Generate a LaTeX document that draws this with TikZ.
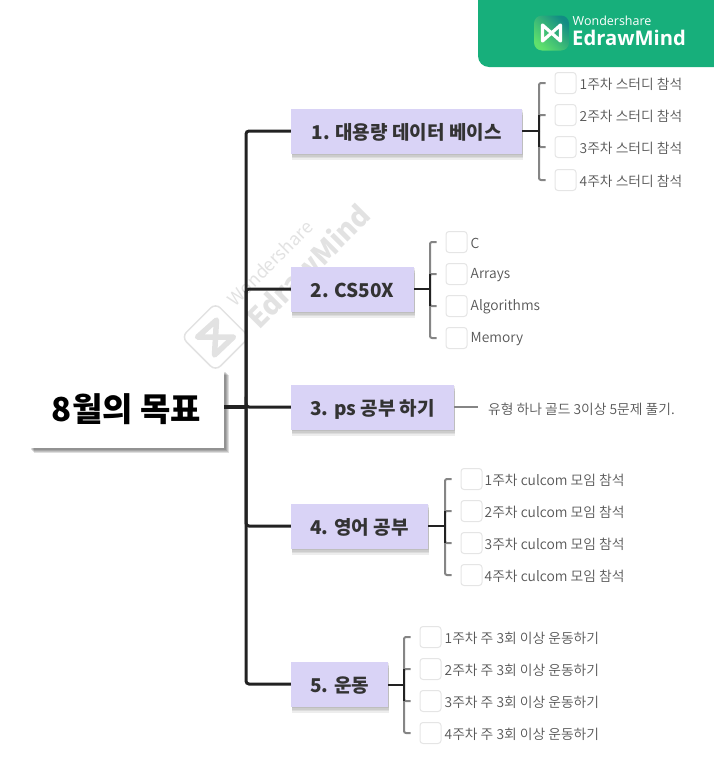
\documentclass[tikz,border=0pt]{standalone}
\usepackage{fontspec}
\setmainfont{Noto Sans CJK KR}
\newfontfamily\leaffont{Noto Sans CJK KR DemiLight}
\newfontfamily\brandfont{Open Sans}
\usetikzlibrary{positioning,shadows}
\definecolor{topicfill}{HTML}{D9D3F6}
\definecolor{linedark}{HTML}{222222}
\definecolor{linegray}{HTML}{858585}
\definecolor{leafgray}{HTML}{555555}
\definecolor{brandgreen}{HTML}{17AF7B}
\definecolor{markgray}{HTML}{E2E2E2}
\definecolor{iconlight}{HTML}{5FE06C}
\definecolor{icondark}{HTML}{128C84}
\tikzset{
    softshadow/.style={drop shadow={shadow xshift=#1, shadow yshift=-#1, fill=black, opacity=0.13}},
    topicshadow/.style={drop shadow={shadow xshift=1pt, shadow yshift=-#1, fill=black, opacity=0.07}},
    rootbox/.style={fill=white, minimum width=195pt, minimum height=78pt, inner sep=0pt, font=\bfseries\fontsize{33}{35}\selectfont, text=black,
        softshadow=5pt, softshadow=4pt, softshadow=3pt, softshadow=2pt},
    topicbox/.style={fill=topicfill, minimum height=45pt, inner sep=0pt, text height=16pt, text depth=0pt, font=\bfseries\fontsize{19}{21}\selectfont, text=black!80,
        topicshadow=6pt, topicshadow=4.5pt, topicshadow=3pt, topicshadow=1.5pt},
    chkbox/.style={draw=black!10, fill=white, rounded corners=3pt, minimum size=21pt, inner sep=0pt, line width=1pt},
    leaftext/.style={font=\leaffont\fontsize{13.8}{15}\selectfont, text=leafgray, inner sep=0pt, yshift=-1pt},
    trunkline/.style={draw=linedark, line width=3pt, rounded corners=3pt},
    stemline/.style={draw=linedark, line width=2.5pt},
    leafline/.style={draw=linegray, line width=2pt, rounded corners=2pt, shorten >=9pt},
    leafstem/.style={draw=linedark, line width=2pt}
}
\begin{document}
\begin{tikzpicture}[x=1pt, y=-1pt]
    \useasboundingbox (0,0) rectangle (713,766);

    \fill[brandgreen, rounded corners=11pt] (478,-20) rectangle (740,67);
    \node[inner sep=0pt, minimum size=35pt, rounded corners=8pt, left color=iconlight, right color=icondark, shading angle=135] (logoicon) at (551.5,33) {};
    \draw[white, line width=3.2pt, line join=round] (logoicon.center) +(-9,-8) -- +(9,8) -- +(9,-8) -- +(-9,8) -- cycle;
    \node[anchor=west, inner sep=0pt, text=white, font=\brandfont\fontsize{12.5}{14}\selectfont] (brandtop) at (572.5,20.5) {Wondershare};
    \node[anchor=west, inner sep=0pt, text=white, font=\brandfont\bfseries\fontsize{20.2}{24}\selectfont] (brandname) at (572,37.5) {EdrawMind};

    \node[rotate=45, draw=markgray, rounded corners=7pt, line width=1.5pt, minimum size=48pt, inner sep=0pt] (marklogo) at (215.5,337) {};
    \draw[markgray, line width=5.5pt, line join=round] (marklogo.center) +(-18,0) -- +(1,-17) -- +(-1,18) -- +(18,0) -- cycle;
    \node[rotate=45, text=markgray, font=\fontsize{18}{20}\selectfont, inner sep=0pt] (markname) at (270,263) {Wondershare};
    \node[rotate=45, text=markgray, font=\bfseries\fontsize{28}{30}\selectfont, inner sep=0pt] (markbrand) at (308,266) {EdrawMind};

    \node[rootbox] (root) at (126.5,409) {8월의 목표};
    \node[topicbox, minimum width=231pt] (topicA) at (406.5,131) {1. 대용량 데이터 베이스};
    \node[topicbox, minimum width=123pt] (topicB) at (352.5,289) {2. CS50X};
    \node[topicbox, minimum width=163pt] (topicC) at (372.5,407) {3. ps 공부 하기};
    \node[topicbox, minimum width=137pt] (topicD) at (359.5,526) {4. 영어 공부};
    \node[topicbox, minimum width=97pt] (topicE) at (339.5,684) {5. 운동};

    \coordinate (trunk) at (246,407);
    \draw[draw=linedark, line width=4pt] (root.east |- trunk) -- (trunk);
    \foreach \t in {topicA,topicB,topicC,topicD,topicE} {
        \draw[trunkline] (trunk) |- (\t.west);
    }

    \coordinate (juncA) at (539,131);
    \coordinate (juncB) at (430,289);
    \coordinate (juncD) at (445,526);
    \coordinate (juncE) at (404,685);
    \draw[stemline] (topicA.east) -- (juncA);
    \draw[stemline] (topicB.east) -- (juncB);
    \draw[stemline] (topicD.east) -- (juncD);
    \draw[stemline] (topicE.east |- juncE) -- (juncE);

    \foreach \n/\y in {1/83,2/115,3/147,4/180} {
        \node[chkbox] (chkA\n) at (565.5,\y) {};
        \node[leaftext, right=3pt of chkA\n] (leafA\n) {{\n}주차 스터디 참석};
        \draw[leafline] (juncA) |- (chkA\n.west);
    }
    \foreach \n/\y/\s in {1/242/C,2/274/Arrays,3/306/Algorithms,4/338/Memory} {
        \node[chkbox] (chkB\n) at (456.5,\y) {};
        \node[leaftext, right=3pt of chkB\n] (leafB\n) {\s};
        \draw[leafline] (juncB) |- (chkB\n.west);
    }
    \foreach \n/\y in {1/479,2/511,3/543,4/575} {
        \node[chkbox] (chkD\n) at (471.5,\y) {};
        \node[leaftext, right=2pt of chkD\n] (leafD\n) {{\n}주차 culcom 모임 참석};
        \draw[leafline] (juncD) |- (chkD\n.west);
    }
    \foreach \n/\y in {1/637,2/669,3/701,4/733} {
        \node[chkbox] (chkE\n) at (430.5,\y) {};
        \node[leaftext, right=3pt of chkE\n] (leafE\n) {{\n}주차 주 3회 이상 운동하기};
        \draw[leafline] (juncE) |- (chkE\n.west);
    }
    \foreach \j/\c in {juncA/chkA,juncB/chkB,juncD/chkD,juncE/chkE} {
        \draw[leafstem] (\j |- \c2.west) -- (\j |- \c3.west);
    }

    \node[leaftext, anchor=west] (leafC) at (488,408) {유형 하나 골드 3이상 5문제 풀기.};
    \draw[draw=linegray, line width=1.5pt, shorten >=10pt] (topicC.east) -- (leafC.west |- topicC.east);
\end{tikzpicture}
\end{document}
